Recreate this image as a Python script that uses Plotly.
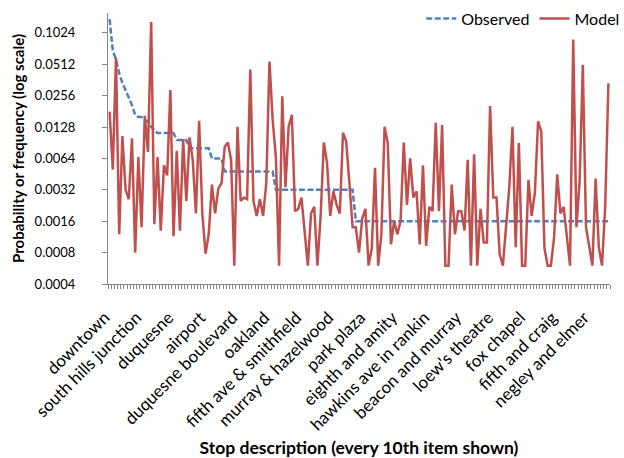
import math
import plotly.graph_objects as go

# ---- data ----
stop_labels = ["downtown", "south hills junction", "duquesne", "airport",
               "duquesne boulevard", "oakland", "fifth ave & smithfield",
               "murray & hazelwood", "park plaza", "eighth and amity",
               "hawkins ave in rankin", "beacon and murray", "loew's theatre",
               "fox chapel", "fifth and craig", "negley and elmer"]

observed = [
    0.139, 0.069, 0.057, 0.042, 0.034, 0.029, 0.0248, 0.0208, 0.0168, 0.016,
    0.016, 0.0152, 0.0144, 0.0128, 0.012, 0.0112, 0.0112, 0.0112, 0.0112, 0.0112,
    0.0112, 0.0096, 0.0096, 0.0096, 0.0096, 0.008, 0.008, 0.008, 0.008, 0.008,
    0.008, 0.008, 0.0064, 0.0064, 0.0064, 0.0064, 0.0048, 0.0048, 0.0048, 0.0048,
    0.0048, 0.0048, 0.0048, 0.0048, 0.0048, 0.0048, 0.0048, 0.0048, 0.0048, 0.0048,
    0.0048, 0.0048, 0.0032, 0.0032, 0.0032, 0.0032, 0.0032, 0.0032, 0.0032, 0.0032,
    0.0032, 0.0032, 0.0032, 0.0032, 0.0032, 0.0032, 0.0032, 0.0032, 0.0032, 0.0032,
    0.0032, 0.0032, 0.0032, 0.0032, 0.0032, 0.0032, 0.0032, 0.0016, 0.0016, 0.0016,
    0.0016, 0.0016, 0.0016, 0.0016, 0.0016, 0.0016, 0.0016, 0.0016, 0.0016, 0.0016,
    0.0016, 0.0016, 0.0016, 0.0016, 0.0016, 0.0016, 0.0016, 0.0016, 0.0016, 0.0016,
    0.0016, 0.0016, 0.0016, 0.0016, 0.0016, 0.0016, 0.0016, 0.0016, 0.0016, 0.0016,
    0.0016, 0.0016, 0.0016, 0.0016, 0.0016, 0.0016, 0.0016, 0.0016, 0.0016, 0.0016,
    0.0016, 0.0016, 0.0016, 0.0016, 0.0016, 0.0016, 0.0016, 0.0016, 0.0016, 0.0016,
    0.0016, 0.0016, 0.0016, 0.0016, 0.0016, 0.0016, 0.0016, 0.0016, 0.0016, 0.0016,
    0.0016, 0.0016, 0.0016, 0.0016, 0.0016, 0.0016, 0.0016, 0.0016, 0.0016, 0.0016,
    0.0016, 0.0016, 0.0016, 0.0016, 0.0016, 0.0016, 0.0016,
]

model = [
    0.018, 0.005, 0.059, 0.0012, 0.0105, 0.0032, 0.0026, 0.010, 0.0008, 0.0066,
    0.0014, 0.0164, 0.0074, 0.13, 0.0015, 0.0066, 0.0013, 0.0055, 0.0044, 0.029,
    0.00115, 0.0076, 0.0013, 0.0098, 0.0025, 0.0102, 0.0062, 0.0019, 0.0147, 0.0019,
    0.00078, 0.0012, 0.0036, 0.0019, 0.0033, 0.0037, 0.0083, 0.0091, 0.0062, 0.0006,
    0.0129, 0.0025, 0.0027, 0.0026, 0.0455, 0.0025, 0.0018, 0.0026, 0.0018, 0.0037,
    0.0545, 0.015, 0.0066, 0.0006, 0.0253, 0.0034, 0.0129, 0.0168, 0.002, 0.0021,
    0.0027, 0.0013, 0.0006, 0.0019, 0.0022, 0.0006, 0.0018, 0.0091, 0.0058, 0.0018,
    0.0031, 0.0023, 0.0019, 0.0113, 0.0093, 0.0037, 0.0014, 0.0014, 0.0008, 0.0017,
    0.0021, 0.0006, 0.00088, 0.0052, 0.0006, 0.0012, 0.0129, 0.009, 0.00096, 0.0016,
    0.0012, 0.0016, 0.0091, 0.0023, 0.0064, 0.0027, 0.0031, 0.00096, 0.0055, 0.00093,
    0.0022, 0.002, 0.0141, 0.002, 0.0134, 0.0006, 0.0006, 0.0036, 0.0012, 0.002,
    0.002, 0.0013, 0.0062, 0.0006, 0.007, 0.0006, 0.0021, 0.001, 0.001, 0.0204,
    0.0027, 0.0027, 0.00077, 0.0006, 0.0014, 0.0034, 0.0129, 0.0009, 0.009, 0.0006,
    0.0006, 0.004, 0.0018, 0.003, 0.0145, 0.0116, 0.00088, 0.0006, 0.0006, 0.0011,
    0.0045, 0.0019, 0.0022, 0.0011, 0.0006, 0.0885, 0.0014, 0.0039, 0.0507, 0.0014,
    0.0009, 0.0006, 0.0041, 0.0009, 0.0006, 0.0022, 0.0337,
]

y_ticks = [0.0004, 0.0008, 0.0016, 0.0032, 0.0064, 0.0128, 0.0256, 0.0512, 0.1024]
y_tick_text = ["0.0004", "0.0008", "0.0016", "0.0032", "0.0064",
               "0.0128", "0.0256", "0.0512", "0.1024"]

# ---- figure ----
n = len(observed)
x = list(range(n))
label_pos = x[::10][:len(stop_labels)]

AXIS = "#868686"
FONT = "Lato"

fig = go.Figure()
fig.add_trace(go.Scatter(
    x=x, y=observed, mode="lines", name="Observed",
    line=dict(color="#4F81BD", width=2.5, dash="6px,2.5px"),
))
fig.add_trace(go.Scatter(
    x=x, y=model, mode="lines", name="Model",
    line=dict(color="#C0504D", width=2.5),
))

fig.update_layout(
    width=624, height=458,
    margin=dict(l=108, r=14, t=13, b=174, autoexpand=False),
    plot_bgcolor="white", paper_bgcolor="white",
    font=dict(family=FONT, size=14, color="black"),
    showlegend=True,
    legend=dict(orientation="h", x=0.624, y=1.042, xanchor="left", yanchor="top",
                bgcolor="rgba(0,0,0,0)", font=dict(size=16, family=FONT)),
)

fig.update_xaxes(
    automargin=False,
    range=[-0.5, n - 0.5],
    tickmode="array", tickvals=label_pos, ticktext=stop_labels,
    tickangle=-45, ticks="", ticklabelstandoff=16, ticklabelshift=-5,
    showline=True, linecolor=AXIS, linewidth=1,
    showgrid=False, zeroline=False,
    minor=dict(ticks="outside", tickmode="linear", tick0=-0.5, dtick=1,
               ticklen=4, tickcolor=AXIS, showgrid=False),
    tickfont=dict(size=17, family=FONT),
    title=dict(text="<b>Stop description (every 10th item shown)</b>",
               font=dict(size=17.5, family=FONT), standoff=18),
)

fig.update_yaxes(
    automargin=False,
    type="log",
    range=[math.log10(0.0004), math.log10(0.159)],
    tickmode="array", tickvals=y_ticks, ticktext=y_tick_text,
    ticks="outside", ticklen=5, tickcolor=AXIS,
    showline=True, linecolor=AXIS, linewidth=1,
    showgrid=False, zeroline=False,
    ticklabelstandoff=24,
    tickfont=dict(size=13, family=FONT),
    title=dict(text="<b>Probability or frequency (log scale)</b>",
               font=dict(size=15, family=FONT), standoff=6),
)

fig.write_html("out.html", config={"displayModeBar": False},
               post_script="document.body.style.margin='0';")
